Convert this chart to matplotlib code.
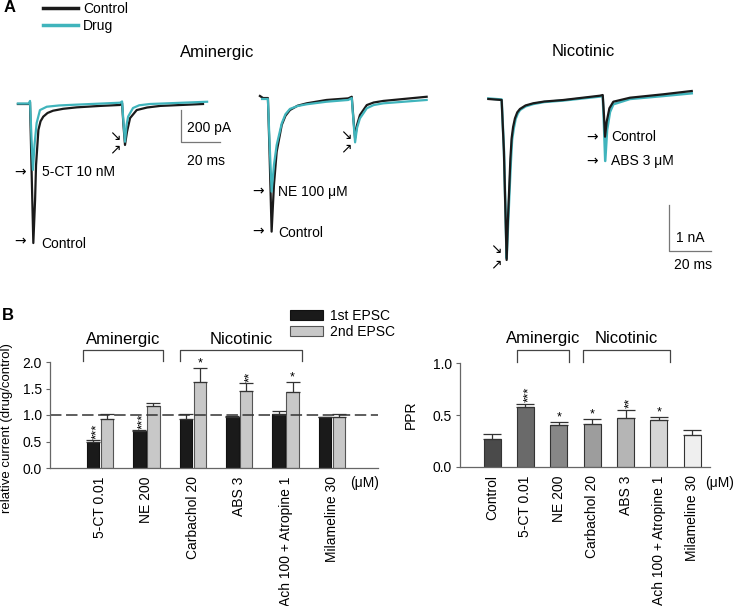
import matplotlib
matplotlib.use("Agg")
import matplotlib.pyplot as plt

plt.rcParams['font.family'] = ['Liberation Sans', 'DejaVu Sans']
plt.rcParams['font.size'] = 10

CYAN = "#40b4bc"
BLACK = "#1a1a1a"

# ---- panel A traces (time in ms from 1st stimulus, current in pA) ----
t1c = [-6.2, -0.5, 0.0, 0.8, 1.7, 2.6, 3.1, 4.3, 5.4, 6.8, 9.0, 11.8, 17.0, 23.9, 35.9, 46.2, 47.2, 47.9, 48.7, 49.7, 51.3, 54.7, 60.0, 66.7, 88.7]
i1c = [0, 0, 12, -412, -869, -600, -381, -162, -108, -79, -56, -42, -30, -21, -12, -6, 6, -131, -256, -175, -88, -38, -22, -12, 0]
t1d = [-6.2, -0.5, 0.0, 0.8, 1.5, 2.3, 3.4, 5.1, 8.6, 15.0, 23.9, 46.2, 47.2, 47.9, 48.7, 49.5, 50.3, 52.8, 56.0, 61.5, 90.8]
i1d = [3, 3, 19, -225, -412, -256, -119, -38, -17, -9, -4, 8, 16, -112, -236, -131, -79, -25, -8, 0, 14]

t2c = [-4.3, -2.7, -0.2, 0.6, 1.7, 2.9, 4.3, 6.9, 8.8, 11.1, 15.0, 19.7, 29.9, 41.0, 42.8, 43.7, 44.5, 45.5, 47.0, 50.5, 54.0, 59.0, 81.2]
i2c = [19, 6, 6, -319, -829, -537, -329, -162, -105, -69, -42, -27, -6, 4, 14, -131, -244, -162, -100, -38, -22, -12, 14]
t2d = [-3.2, -0.2, 0.6, 1.7, 2.9, 4.3, 6.9, 8.8, 11.1, 15.0, 19.7, 29.9, 41.0, 42.8, 43.7, 44.5, 45.5, 47.0, 50.5, 54.0, 59.0, 81.2]
i2d = [0, 0, -256, -579, -412, -287, -152, -95, -62, -44, -33, -17, -6, 6, -144, -271, -181, -121, -58, -38, -27, -6]

t3c = [-6.9, -0.5, 0.6, 1.9, 2.5, 3.2, 3.7, 4.3, 5.0, 5.9, 7.0, 8.3, 11.0, 14.7, 20.0, 29.1, 46.8, 48.1, 48.7, 49.2, 50.0, 51.3, 53.2, 61.2, 77.2, 90.9]
i3c = [0, -22, -1146, -3500, -2650, -1870, -1300, -854, -610, -420, -290, -217, -140, -93, -55, -22, 72, 87, -348, -820, -493, -202, -59, 28, 102, 174]
t3d = [-6.9, -0.5, 0.6, 1.9, 2.6, 3.3, 3.9, 4.5, 5.3, 6.2, 7.2, 8.3, 11.0, 14.7, 20.0, 29.1, 46.8, 48.1, 48.7, 49.3, 50.2, 51.6, 53.2, 61.2, 77.2, 90.9]
i3d = [11, -11, -1109, -3463, -2700, -1978, -1380, -891, -640, -435, -320, -239, -160, -109, -65, -33, 54, 65, -565, -1348, -674, -283, -115, 0, 65, 124]

# ---- panel B left: relative current ----
drugs = ['5-CT 0.01', 'NE 200', 'Carbachol 20', 'ABS 3', 'Ach 100 + Atropine 1', 'Milameline 30']
first = [0.49, 0.69, 0.92, 0.97, 1.01, 0.96]
first_err = [0.03, 0.02, 0.09, 0.02, 0.06, 0.01]
second = [0.93, 1.17, 1.62, 1.45, 1.43, 0.96]
second_err = [0.08, 0.06, 0.27, 0.15, 0.19, 0.05]
first_stars = ['***', '***', '', '', '', '']
second_stars = ['', '', '*', '**', '*', '']

# ---- panel B right: paired pulse ratio ----
ppr_labels = ['Control', '5-CT 0.01', 'NE 200', 'Carbachol 20', 'ABS 3', 'Ach 100 + Atropine 1', 'Milameline 30']
ppr = [0.265, 0.575, 0.40, 0.41, 0.47, 0.45, 0.31]
ppr_err = [0.055, 0.035, 0.03, 0.05, 0.08, 0.03, 0.05]
ppr_stars = ['', '***', '*', '*', '**', '*', '']
ppr_colors = ['#4a4a4a', '#6a6a6a', '#878787', '#9d9d9d', '#b5b5b5', '#d5d5d5', '#efefef']

W, H = 737, 606
fig = plt.figure(figsize=(W / 100, H / 100), dpi=100)


def px_axes(x0, y0, x1, y1):
    # axes from a pixel box of the figure (top-left origin)
    return fig.add_axes([x0 / W, 1 - y1 / H, (x1 - x0) / W, (y1 - y0) / H])


def scalebar(ax, t0, i0, di, dt, lab_i, lab_t):
    ax.plot([t0, t0, t0 + dt], [i0, i0 - di, i0 - di], color='#777777', lw=0.9)
    ax.text(t0 + 3, i0 - di * 0.55, lab_i, ha='left', va='center', fontsize=10)
    ax.text(t0 + 3, i0 - di * 1.6, lab_t, ha='left', va='center', fontsize=10)


arrow_kw = dict(fontsize=10, va='center', ha='center', family='DejaVu Sans')

# trace 1: 5-CT
ax1 = px_axes(10, 90, 235, 250)
l_ctrl, = ax1.plot(t1c, i1c, color=BLACK, lw=1.6, label='Control')
l_drug, = ax1.plot(t1d, i1d, color=CYAN, lw=1.6, label='Drug')
ax1.set_xlim(-10.26, 105.1)
ax1.set_ylim(-912.5, 87.5)
ax1.axis('off')
scalebar(ax1, 77.4, -37.5, 200, 20, '200 pA', '20 ms')
ax1.text(-5.1, -425, '→', **arrow_kw)
ax1.text(6.0, -425, '5-CT 10 nM', ha='left', va='center')
ax1.text(-5.1, -862, '→', **arrow_kw)
ax1.text(5.6, -875, 'Control', ha='left', va='center')
ax1.text(43.6, -200, '↘', **arrow_kw)
ax1.text(43.6, -281, '↗', **arrow_kw)

# trace 2: NE
ax2 = px_axes(245, 85, 440, 245)
ax2.plot(t2c, i2c, color=BLACK, lw=1.6)
ax2.plot(t2d, i2d, color=CYAN, lw=1.6)
ax2.set_xlim(-11.95, 88.05)
ax2.set_ylim(-912.5, 87.5)
ax2.axis('off')
ax2.text(-5.3, -575, '→', **arrow_kw)
ax2.text(5.0, -580, 'NE 100 μM', ha='left', va='center')
ax2.text(-5.3, -825, '→', **arrow_kw)
ax2.text(5.0, -840, 'Control', ha='left', va='center')
ax2.text(39.8, -225, '↘', **arrow_kw)
ax2.text(39.8, -306, '↗', **arrow_kw)

# trace 3: ABS (nicotinic)
ax3 = px_axes(480, 80, 730, 280)
ax3.plot(t3d, i3d, color=CYAN, lw=1.8)
ax3.plot(t3c, i3c, color=BLACK, lw=1.6)
ax3.set_xlim(-10.91, 109.3)
ax3.set_ylim(-3935, 413)
ax3.axis('off')
ax3.plot([80, 80, 100], [-2304, -3304, -3304], color='#777777', lw=0.9)
ax3.text(83.5, -3022, '1 nA', ha='left', va='center')
ax3.text(82.4, -3609, '20 ms', ha='left', va='center')
ax3.text(-3.2, -3261, '↘', **arrow_kw)
ax3.text(-3.2, -3587, '↗', **arrow_kw)
ax3.text(42.9, -826, '→', **arrow_kw)
ax3.text(52.0, -826, 'Control', ha='left', va='center')
ax3.text(42.9, -1348, '→', **arrow_kw)
ax3.text(52.0, -1355, 'ABS 3 μM', ha='left', va='center')

fig.text(217 / W, 1 - 52 / H, 'Aminergic', ha='center', va='center', fontsize=12)
fig.text(583 / W, 1 - 52 / H, 'Nicotinic', ha='center', va='center', fontsize=12)
fig.text(4 / W, 1 - 8 / H, 'A', ha='left', va='center', fontsize=12, fontweight='bold')
fig.text(2 / W, 1 - 315 / H, 'B', ha='left', va='center', fontsize=12, fontweight='bold')
fig.legend(handles=[l_ctrl, l_drug], loc='upper left', bbox_to_anchor=(43 / W, 1 - 2 / H),
           frameon=False, fontsize=10, handlelength=2.5, handletextpad=0.4,
           labelspacing=0.2, borderpad=0, borderaxespad=0)
for h in fig.legends[0].get_lines():
    h.set_linewidth(2.5)


def style_bar_axes(ax):
    for s in ['top', 'right']:
        ax.spines[s].set_visible(False)
    for s in ['left', 'bottom']:
        ax.spines[s].set_color('#666666')
        ax.spines[s].set_linewidth(0.9)
    ax.tick_params(axis='y', length=3, width=0.8, color='#666666', pad=3, labelsize=10)
    ax.tick_params(axis='x', length=0, pad=6, labelsize=10)


def bracket(ax, x0, x1, ytop, ybot, label, ylab):
    ax.plot([x0, x0, x1, x1], [ybot, ytop, ytop, ybot], color='#444444', lw=0.9, clip_on=False)
    ax.text((x0 + x1) / 2, ylab, label, ha='center', va='center', fontsize=12)


def stars(ax, x, y, s):
    if not s:
        return
    if len(s) > 1:
        ax.annotate(s, (x, y), xytext=(3, 1), textcoords='offset points', rotation=90,
                    ha='center', va='bottom', fontsize=9.5, annotation_clip=False)
    else:
        ax.annotate(s, (x, y), xytext=(0, -1), textcoords='offset points',
                    ha='center', va='bottom', fontsize=9, annotation_clip=False)


# left bars
axL = px_axes(50, 362, 378, 468)
pos = list(range(1, len(drugs) + 1))
p1 = [p - 0.15 for p in pos]
p2 = [p + 0.15 for p in pos]
b1 = axL.bar(p1, first, 0.27, color=BLACK, edgecolor='#111111', lw=0.8, label='1st EPSC')
b2 = axL.bar(p2, second, 0.27, color='#c8c8c8', edgecolor='#555555', lw=0.8, label='2nd EPSC')
axL.errorbar(p1, first, yerr=[[0] * len(first), first_err], fmt='none', ecolor='#333333',
             elinewidth=0.9, capsize=4.7, capthick=0.9)
axL.errorbar(p2, second, yerr=[[0] * len(second), second_err], fmt='none', ecolor='#333333',
             elinewidth=0.9, capsize=4.7, capthick=0.9)
axL.axhline(1.0, color='#333333', lw=1.1, ls=(0, (7.5, 3)))
axL.set_xlim(-0.078, 6.99)
axL.set_ylim(0, 2.0)
axL.set_yticks([0, 0.5, 1.0, 1.5, 2.0])
axL.set_yticklabels(['0.0', '0.5', '1.0', '1.5', '2.0'])
axL.set_xticks(pos)
axL.set_xticklabels(drugs, rotation=90, va='top')
style_bar_axes(axL)
axL.set_ylabel('relative current (drug/control)', fontsize=9.5)
axL.yaxis.set_label_coords(-0.112, 0.38)
for x, v, e, s in zip(p1, first, first_err, first_stars):
    stars(axL, x, v + e, s)
for x, v, e, s in zip(p2, second, second_err, second_stars):
    stars(axL, x, v + e, s)
bracket(axL, pos[0] - 0.37, pos[1] + 0.36, 2.23, 2.02, 'Aminergic', 2.43)
bracket(axL, pos[2] - 0.28, pos[4] + 0.35, 2.23, 2.02, 'Nicotinic', 2.43)
axL.text(0.96, -0.14, '(μM)', transform=axL.transAxes, ha='center', va='center', fontsize=10)
fig.legend(handles=[b1, b2], loc='upper left', bbox_to_anchor=(290 / W, 1 - 309 / H),
           frameon=False, fontsize=10, handlelength=2.4, handleheight=0.7,
           handletextpad=0.5, labelspacing=0.15, borderpad=0, borderaxespad=0)

# right bars
axR = px_axes(460, 363, 710, 467)
posr = list(range(1, len(ppr) + 1))
axR.bar(posr, ppr, 0.51, color=ppr_colors, edgecolor='#333333', lw=0.8)
axR.errorbar(posr, ppr, yerr=[[0] * len(ppr), ppr_err], fmt='none', ecolor='#333333',
             elinewidth=0.9, capsize=6.5, capthick=0.9)
axR.set_xlim(0.04, 7.53)
axR.set_ylim(0, 1.0)
axR.set_yticks([0, 0.5, 1.0])
axR.set_yticklabels(['0.0', '0.5', '1.0'])
axR.set_xticks(posr)
axR.set_xticklabels(ppr_labels, rotation=90, va='top')
style_bar_axes(axR)
axR.set_ylabel('PPR', fontsize=10)
axR.yaxis.set_label_coords(-0.17, 0.5)
for x, v, e, s in zip(posr, ppr, ppr_err, ppr_stars):
    stars(axR, x, v + e, s)
bracket(axR, posr[1] - 0.25, posr[2] + 0.31, 1.125, 1.01, 'Aminergic', 1.24)
bracket(axR, posr[3] - 0.28, posr[5] + 0.33, 1.125, 1.01, 'Nicotinic', 1.24)
axR.text(1.04, -0.155, '(μM)', transform=axR.transAxes, ha='center', va='center', fontsize=10)

fig.savefig('out.png', dpi=100)
